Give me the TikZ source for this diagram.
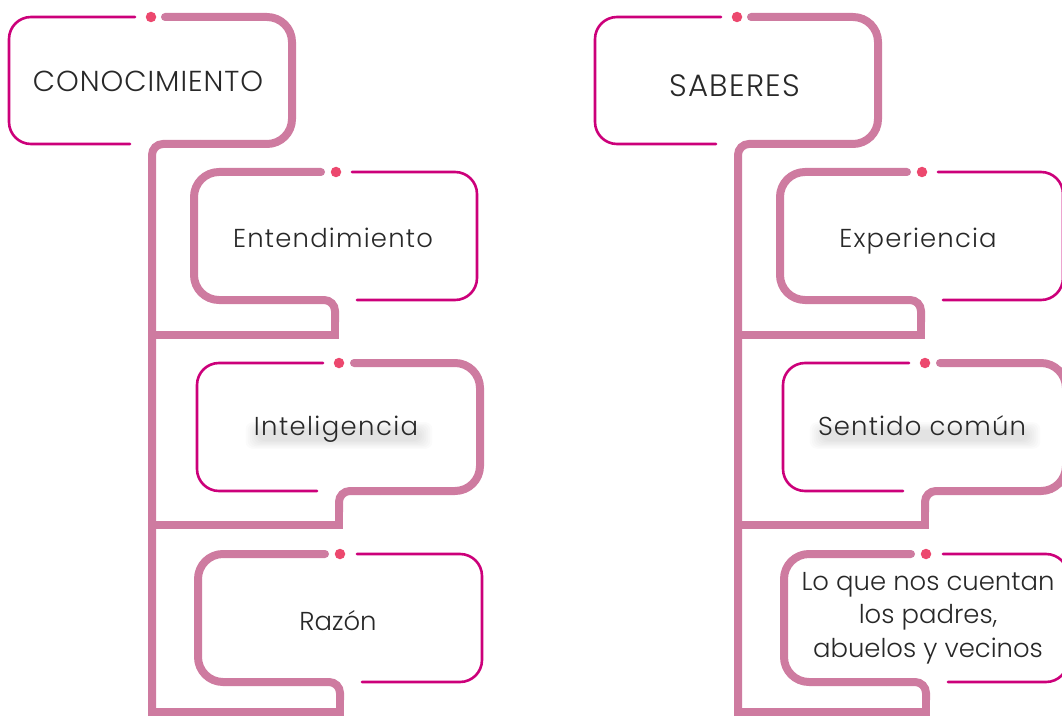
\documentclass[tikz,border=0pt]{standalone}
\usepackage{fontspec}
\setmainfont{Poppins Light}
\usetikzlibrary{calc,backgrounds}
\definecolor{thickpink}{RGB}{206,123,160}
\definecolor{thinmag}{RGB}{204,0,122}
\definecolor{dotred}{RGB}{236,72,110}
\definecolor{txt}{RGB}{40,40,40}
\begin{document}
\begin{tikzpicture}[x=1bp,y=-1bp,
  thk/.style={draw=thickpink,line width=8bp,line cap=round},
  thn/.style={draw=thinmag,line width=2.6bp,line cap=round,rounded corners=22bp},
  dotc/.style={circle,fill=dotred,inner sep=0pt,minimum size=10.5bp},
  lbl/.style={text=txt,inner sep=0pt,font=\fontsize{26}{33.5}\selectfont,align=center},
  wide/.style={font=\fontsize{26}{33.5}\selectfont\addfontfeature{LetterSpace=#1}},
  ttl/.style={text=txt,inner sep=0pt,font=\fontsize{29}{34}\selectfont\addfontfeature{LetterSpace=3.4}},
  shdbox/.style={fill=black,opacity=0.016,rounded corners=7bp}]
\useasboundingbox (0,0) rectangle (1062,716);
\clip (0,0) rectangle (1062,716);
\foreach \ox/\col in {0/L,586/R}{
\begin{scope}[xshift=\ox bp]
  % Box A (title)
  \draw[thn] (135,17) -- (9,17) -- (9,144) -- (130,144);
  \draw[thk,rounded corners=25bp] (165,17) -- (292,17) -- (292,144) -- (200,144);
  \draw[thk,rounded corners=11bp] (200,144) -- (152,144) -- (152,740);
  \node[dotc] (dotA\col) at (151,17) {};
  % Box B
  \draw[thk,rounded corners=25bp] (321,172) -- (194,172) -- (194,300) -- (300,300);
  \draw[thk,rounded corners=11bp] (300,300) -- (335,300) -- (335,322);
  \draw[thk,line join=miter] (335,322) -- (335,335) -- (152,335);
  \draw[thn] (352,172) -- (477,172) -- (477,300) -- (357,300);
  \node[dotc] (dotB\col) at (336,172) {};
  % Box C
  \draw[thn] (323,363) -- (197,363) -- (197,491) -- (317,491);
  \draw[thk,rounded corners=25bp] (354,363) -- (480,363) -- (480,491) -- (380,491);
  \draw[thk,rounded corners=11bp] (380,491) -- (339,491) -- (339,512);
  \draw[thk,line join=miter] (339,512) -- (339,525) -- (152,525);
  \node[dotc] (dotC\col) at (339,363) {};
  % Box D
  \draw[thk,rounded corners=25bp] (325,554) -- (198,554) -- (198,682) -- (300,682);
  \draw[thk,rounded corners=11bp] (300,682) -- (340,682) -- (340,700);
  \draw[thk,line join=miter] (340,700) -- (340,712) -- (152,712);
  \draw[thn] (357,554) -- (482,554) -- (482,682) -- (362,682);
  \node[dotc] (dotD\col) at (340,554) {};
\end{scope}
}
% texts
\node[ttl,anchor=base] (conoc) at (148,92) {CONOCIMIENTO};
\node[ttl,anchor=base,font=\fontsize{31}{36}\selectfont\addfontfeature{LetterSpace=4.2}] (saber) at (735,97) {SABERES};
\node[lbl,wide=4.7,anchor=base] (ent) at (333,247) {Entendimiento};
\node[lbl,wide=5.4,anchor=base] (intel) at (336,435) {Inteligencia};
\node[lbl,anchor=base] (razon) at (338,630) {Razón};
\node[lbl,wide=4.5,anchor=base] (exper) at (918,247) {Experiencia};
\node[lbl,wide=4.4,anchor=base] (sent) at (922,435) {Sentido común};
\node[lbl] (loque) at (928,618) {Lo que nos cuentan\\los padres,\\abuelos y vecinos};
% soft text shadows, behind the texts
\begin{scope}[on background layer]
\foreach \nd in {intel,sent}{
  \foreach \k in {0,...,6}{
    \fill[shdbox] ($(\nd.base west)+(4-2*\k,-5-1.3*\k)$) rectangle ($(\nd.base east)+(2+2*\k,6+1.3*\k)$);
  }
}
\end{scope}
\end{tikzpicture}
\end{document}
